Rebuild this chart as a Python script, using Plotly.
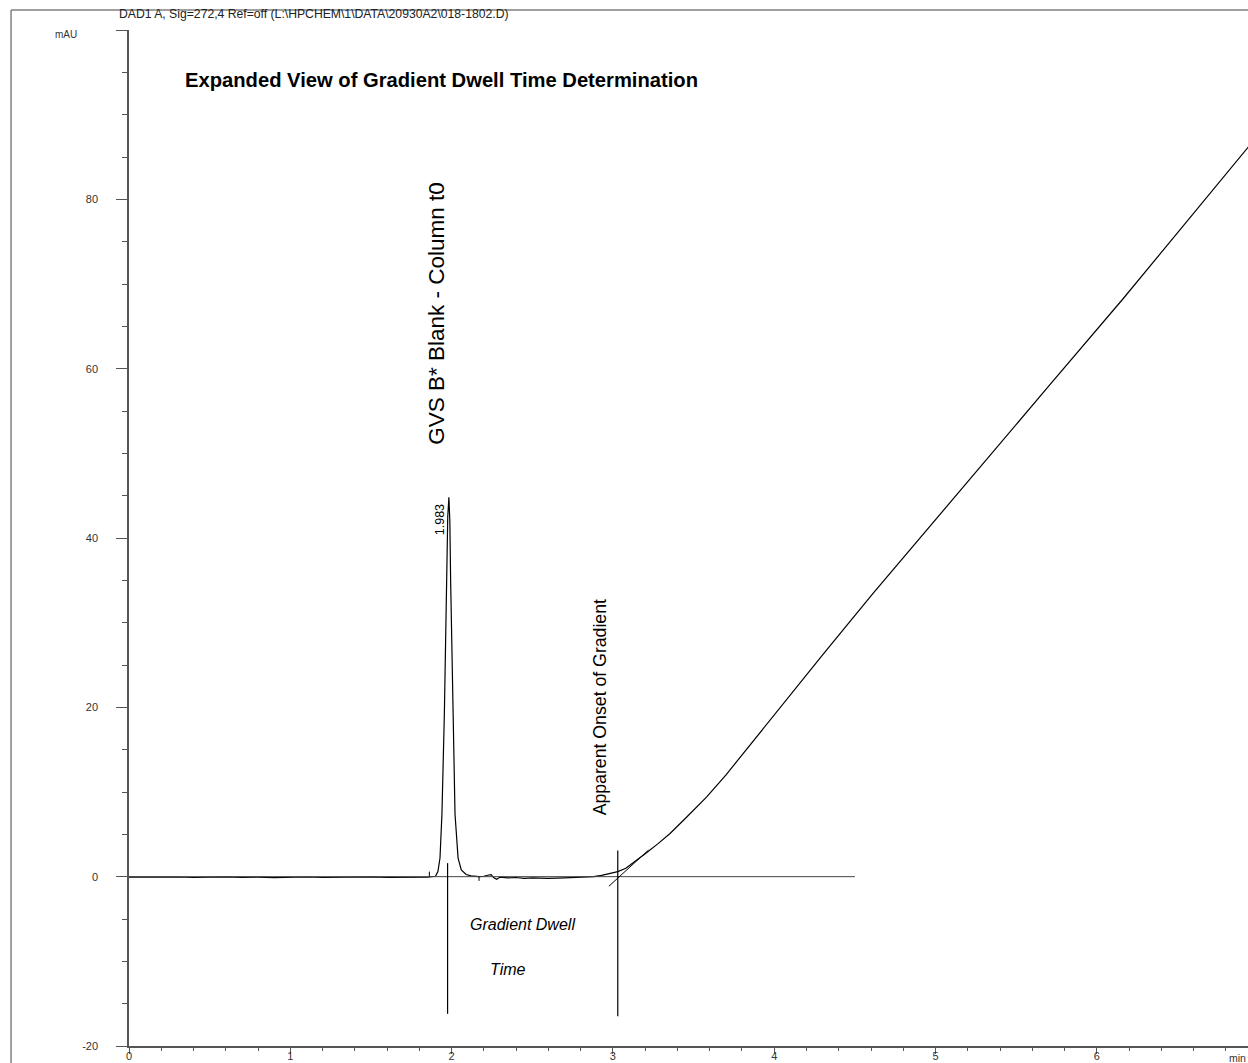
import plotly.graph_objects as go

# ---- chromatogram trace (min, mAU) ----
time_min = [0.00, 0.10, 0.20, 0.30, 0.40, 0.50, 0.60, 0.70, 0.80, 0.90, 1.00, 1.10, 1.20, 1.30,
            1.40, 1.50, 1.60, 1.70, 1.80, 1.85, 1.90, 1.915, 1.928, 1.940, 1.955, 1.967, 1.976,
            1.983, 1.989, 1.994, 2.007, 2.021, 2.040, 2.060, 2.090, 2.120, 2.170, 2.200, 2.230,
            2.245, 2.260, 2.280, 2.300, 2.350, 2.400, 2.450, 2.500, 2.600, 2.700, 2.800, 2.880,
            2.930, 2.970, 3.000, 3.030, 3.080, 3.125, 3.200, 3.280, 3.354, 3.450, 3.580, 3.700,
            3.860, 4.070, 4.300, 4.610, 5.000, 5.400, 5.700, 6.160, 6.500, 6.940]
signal_mau = [-0.05, -0.02, -0.08, -0.04, -0.10, -0.06, -0.03, -0.09, -0.05, -0.12, -0.07, -0.04,
              -0.10, -0.06, -0.08, -0.03, -0.09, -0.06, -0.10, -0.07, 0.05, 0.6, 2.2, 7.4, 19.2,
              34.9, 42.5, 44.8, 42.0, 34.9, 19.2, 7.4, 2.2, 0.8, 0.25, 0.1, 0.0, 0.05, 0.2, 0.25,
              -0.1, -0.3, -0.05, -0.15, -0.1, -0.2, -0.15, -0.2, -0.15, -0.1, 0.0, 0.15, 0.3, 0.4,
              0.6, 1.0, 1.6, 2.7, 3.9, 5.1, 6.9, 9.4, 12.0, 15.8, 20.8, 26.2, 33.4, 42.2, 51.1,
              57.9, 68.2, 76.0, 86.2]

# ---- construction lines ----
baseline_t = [0.0, 4.5]
baseline_v = [0.0, 0.0]
t0_marker_t = [1.975, 1.975]
t0_marker_v = [1.6, -16.2]
onset_marker_t = [3.03, 3.03]
onset_marker_v = [3.1, -16.5]
tangent_t = [2.975, 3.22]
tangent_v = [-1.13, 3.13]
integ_marks_t = [1.862, 2.170]
integ_marks_v = [0.6, -0.5]

# ---- axes ----
x_ticks = [0, 1, 2, 3, 4, 5, 6]
y_ticks = [-20, 0, 20, 40, 60, 80, 100]
y_tick_text = ["-20", "0", "20", "40", "60", "80", ""]

FONT = "Arial, Liberation Sans, sans-serif"

fig = go.Figure()
fig.add_trace(go.Scatter(x=time_min, y=signal_mau, mode="lines",
                         line=dict(color="black", width=1.2), hoverinfo="skip", showlegend=False))

line_kw = dict(mode="lines", hoverinfo="skip", showlegend=False)
fig.add_trace(go.Scatter(x=baseline_t, y=baseline_v, line=dict(color="#444444", width=1), **line_kw))
fig.add_trace(go.Scatter(x=t0_marker_t, y=t0_marker_v, line=dict(color="black", width=1.2), **line_kw))
fig.add_trace(go.Scatter(x=onset_marker_t, y=onset_marker_v, line=dict(color="black", width=1.2), **line_kw))
fig.add_trace(go.Scatter(x=tangent_t, y=tangent_v, line=dict(color="black", width=1), **line_kw))
for t, v in zip(integ_marks_t, integ_marks_v):
    fig.add_trace(go.Scatter(x=[t, t], y=[0, v], line=dict(color="black", width=1), **line_kw))

fig.update_layout(
    width=1248, height=1063,
    margin=dict(l=129, r=0, t=30, b=17),
    paper_bgcolor="white", plot_bgcolor="white",
    font=dict(family=FONT, color="#222222"),
    xaxis=dict(range=[0, 6.937], tickvals=x_ticks, showgrid=False, zeroline=False, automargin=False,
               showline=True, linecolor="#555555", linewidth=1.5,
               ticks="outside", ticklen=6, tickwidth=1.2, tickcolor="#555555",
               ticklabelstandoff=-7,
               tickfont=dict(size=11, color="#333333"),
               minor=dict(dtick=0.2, ticks="outside", ticklen=3, tickcolor="#555555", tickwidth=1)),
    yaxis=dict(range=[-20, 100], tickvals=y_ticks, ticktext=y_tick_text, showgrid=False, zeroline=False,
               automargin=False,
               showline=True, linecolor="#555555", linewidth=1.5,
               ticks="outside", ticklen=11, tickwidth=1.2, tickcolor="#555555",
               ticklabelstandoff=16,
               tickfont=dict(size=11, color="#333333"),
               minor=dict(dtick=5, ticks="outside", ticklen=5, tickcolor="#555555", tickwidth=1)),
)

# outer frame (left and top)
fig.add_shape(type="line", xref="paper", yref="paper", x0=-0.1054, x1=-0.1054, y0=1.0197, y1=-0.02,
              line=dict(color="#808080", width=1.5))
fig.add_shape(type="line", xref="paper", yref="paper", x0=-0.1054, x1=1.0, y0=1.0197, y1=1.0197,
              line=dict(color="#808080", width=1.5))

ann = [
    dict(text="DAD1 A, Sig=272,4 Ref=off (L:\\HPCHEM\\1\\DATA\\20930A2\\018-1802.D)",
         xref="paper", yref="paper", x=-0.0107, y=1.0157, xanchor="left", yanchor="middle",
         font=dict(size=12.2, color="#222222")),
    dict(text="mAU", xref="paper", yref="y", x=-0.0563, y=99.5, xanchor="center", yanchor="middle",
         font=dict(size=10, color="#333333")),
    dict(text="min", xref="x", yref="paper", x=6.87, y=-0.0118, xanchor="center", yanchor="middle",
         font=dict(size=10.5, color="#333333")),
    dict(text="<b>Expanded View of Gradient Dwell Time Determination</b>", xref="x", yref="y",
         x=0.335, y=94.1, xanchor="left", yanchor="middle", font=dict(size=20.2, color="black")),
    dict(text="GVS B* Blank - Column t0", xref="x", yref="y", x=1.909, y=66.6, textangle=-90,
         xanchor="center", yanchor="middle", font=dict(size=22.5, color="black")),
    dict(text="1.983", xref="x", yref="y", x=1.928, y=42.1, textangle=-90,
         xanchor="center", yanchor="middle", font=dict(size=12.5, color="black")),
    dict(text="Apparent Onset of Gradient", xref="x", yref="y", x=2.92, y=20.0, textangle=-90,
         xanchor="center", yanchor="middle", font=dict(size=17.7, color="black")),
    dict(text="<i>Gradient Dwell</i>", xref="x", yref="y", x=2.437, y=-5.7,
         xanchor="center", yanchor="middle", font=dict(size=16, color="black")),
    dict(text="<i>Time</i>", xref="x", yref="y", x=2.35, y=-11.0,
         xanchor="center", yanchor="middle", font=dict(size=16, color="black")),
]
for a in ann:
    a["showarrow"] = False
    fig.add_annotation(**a)

fig.write_html("out.html", config={"displayModeBar": False},
               post_script="document.body.style.margin='0';document.body.style.overflow='hidden';")
